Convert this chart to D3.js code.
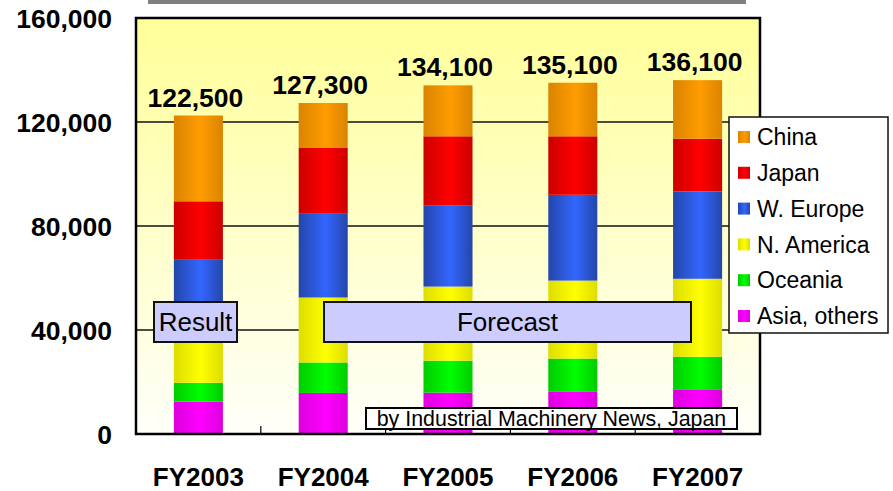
<!DOCTYPE html>
<html>
<head>
<meta charset="utf-8">
<script src="https://cdn.jsdelivr.net/npm/d3@7"></script>
<style>
  html, body { margin: 0; padding: 0; background: #fff; }
  svg { display: block; }
  text { font-family: "Liberation Sans", Arial, sans-serif; fill: #000; }
</style>
</head>
<body>
<svg id="chart" width="893" height="491"></svg>
<script>
// Fiscal years on the x axis
const categories = ["FY2003", "FY2004", "FY2005", "FY2006", "FY2007"];

// Regions, stacked bottom to top
const regions = ["Asia, others", "Oceania", "N. America", "W. Europe", "Japan", "China"];

// Units per region and year
const asiaOthers = [12500, 15800, 15900, 16400, 17200];
const oceania    = [7200, 11700, 12300, 12600, 12500];
const nAmerica   = [22000, 25000, 28500, 30000, 30000];
const wEurope    = [25300, 32200, 31300, 33000, 33600];
const japan      = [22500, 25300, 26500, 22500, 20300];
const china      = [33000, 17300, 19600, 20600, 22500];

// Stated totals above each bar
const totals = [122500, 127300, 134100, 135100, 136100];

// Y axis ticks
const yTicks = [0, 40000, 80000, 120000, 160000];

// Legend order (top to bottom)
const legendOrder = ["China", "Japan", "W. Europe", "N. America", "Oceania", "Asia, others"];

// Bright centre / darker edge tones for each region
const tones = {
  "China":        ["#FF9C00", "#DA8400"],
  "Japan":        ["#FF0000", "#CC0000"],
  "W. Europe":    ["#3366FF", "#2446AA"],
  "N. America":   ["#FFFF00", "#DDDD00"],
  "Oceania":      ["#00FF00", "#00CC00"],
  "Asia, others": ["#FF00FF", "#DD00DD"]
};

const seriesValues = {
  "Asia, others": asiaOthers,
  "Oceania": oceania,
  "N. America": nAmerica,
  "W. Europe": wEurope,
  "Japan": japan,
  "China": china
};

const table = categories.map((c, i) => {
  const row = { year: c };
  regions.forEach(r => { row[r] = seriesValues[r][i]; });
  return row;
});

const svg = d3.select("#chart");
const plotLeft = 136, plotRight = 760, plotTop = 18, plotBottom = 434;

const x = d3.scaleBand().domain(categories).range([plotLeft, plotRight])
  .paddingInner(0.607).paddingOuter(0.3035);
const y = d3.scaleLinear().domain([0, 160000]).range([plotBottom, plotTop]);

const defs = svg.append("defs");

// Plot background: pale yellow fading to near white
const bg = defs.append("linearGradient").attr("id", "plotBg")
  .attr("x1", 0).attr("y1", 0).attr("x2", 0).attr("y2", 1);
bg.append("stop").attr("offset", "0%").attr("stop-color", "#FFFF99");
bg.append("stop").attr("offset", "100%").attr("stop-color", "#FFFFFA");

// Cylindrical shading for the bar segments
regions.forEach((r, i) => {
  const g = defs.append("linearGradient").attr("id", "grad" + i)
    .attr("x1", 0).attr("y1", 0).attr("x2", 1).attr("y2", 0);
  g.append("stop").attr("offset", "0%").attr("stop-color", tones[r][1]);
  g.append("stop").attr("offset", "55%").attr("stop-color", tones[r][0]);
  g.append("stop").attr("offset", "100%").attr("stop-color", tones[r][1]);
});

// Grey rule across the top
svg.append("rect").attr("x", 148).attr("y", 0).attr("width", 598).attr("height", 4)
  .attr("fill", "#808080");

// Plot area
svg.append("rect").attr("x", plotLeft).attr("y", plotTop)
  .attr("width", plotRight - plotLeft).attr("height", plotBottom - plotTop)
  .attr("fill", "url(#plotBg)");

// Gridlines
svg.append("g").selectAll("line").data(yTicks.filter(t => t > 0 && t < 160000))
  .join("line")
  .attr("x1", plotLeft).attr("x2", plotRight)
  .attr("y1", d => y(d)).attr("y2", d => y(d))
  .attr("stroke", "#111").attr("stroke-width", 1.3);

// Stacked bars
const stack = d3.stack().keys(regions)(table);
svg.append("g").selectAll("g").data(stack).join("g")
  .attr("fill", (d, i) => "url(#grad" + i + ")")
  .selectAll("rect").data(d => d).join("rect")
  .attr("x", d => x(d.data.year))
  .attr("width", x.bandwidth())
  .attr("y", d => y(d[1]))
  .attr("height", d => y(d[0]) - y(d[1]));

// Category separator ticks pointing inward
const step = x.step();
svg.append("g").selectAll("line").data(d3.range(1, categories.length))
  .join("line")
  .attr("x1", i => plotLeft + i * step).attr("x2", i => plotLeft + i * step)
  .attr("y1", plotBottom - 8).attr("y2", plotBottom)
  .attr("stroke", "#000").attr("stroke-width", 1.2);

// Plot frame
svg.append("rect").attr("x", plotLeft).attr("y", plotTop)
  .attr("width", plotRight - plotLeft).attr("height", plotBottom - plotTop)
  .attr("fill", "none").attr("stroke", "#000").attr("stroke-width", 2.5);

// Y axis labels
const yAxis = d3.axisLeft(y).tickValues(yTicks).tickSize(0).tickPadding(24)
  .tickFormat(d3.format(","));
const yg = svg.append("g").attr("transform", `translate(${plotLeft},0)`).call(yAxis);
yg.select(".domain").remove();
yg.selectAll("text")
  .attr("font-family", "'Liberation Sans', Arial, sans-serif")
  .attr("font-size", 26.5).attr("font-weight", "bold").attr("fill", "#000")
  .attr("dy", "0.36em");

// X axis labels
const xAxis = d3.axisBottom(x).tickSize(0).tickPadding(0);
const xg = svg.append("g").attr("transform", `translate(0,${plotBottom})`).call(xAxis);
xg.select(".domain").remove();
xg.selectAll("text")
  .attr("font-family", "'Liberation Sans', Arial, sans-serif")
  .attr("font-size", 26).attr("font-weight", "bold").attr("fill", "#000")
  .attr("y", 52).attr("dy", null);

// Totals above bars
svg.append("g").selectAll("text").data(categories).join("text")
  .attr("x", d => x(d) + x.bandwidth() / 2 - 3)
  .attr("y", (d, i) => y(totals[i]) - 9)
  .attr("text-anchor", "middle")
  .attr("font-size", 26.5).attr("font-weight", "bold")
  .text((d, i) => d3.format(",")(totals[i]));

// Result / Forecast tags
function tag(x0, x1, label) {
  svg.append("rect").attr("x", x0).attr("y", 302)
    .attr("width", x1 - x0).attr("height", 40)
    .attr("fill", "#CCCCFF").attr("stroke", "#111").attr("stroke-width", 2);
  svg.append("text").attr("x", (x0 + x1) / 2).attr("y", 322)
    .attr("dy", "0.36em").attr("text-anchor", "middle")
    .attr("font-size", 26).text(label);
}
tag(154, 237, "Result");
tag(324, 691, "Forecast");

// Source note
svg.append("rect").attr("x", 366).attr("y", 408).attr("width", 371).attr("height", 21)
  .attr("fill", "#fff").attr("stroke", "#000").attr("stroke-width", 2);
svg.append("text").attr("x", 551.5).attr("y", 418.5).attr("dy", "0.36em")
  .attr("text-anchor", "middle").attr("font-size", 21.4)
  .text("by Industrial Machinery News, Japan");

// Legend
const lg = svg.append("g");
lg.append("rect").attr("x", 729).attr("y", 117).attr("width", 159).attr("height", 216)
  .attr("fill", "#fff").attr("stroke", "#111").attr("stroke-width", 1.5);
const items = lg.selectAll("g").data(legendOrder).join("g")
  .attr("transform", (d, i) => `translate(0,${137 + i * 35.8})`);
items.append("rect").attr("x", 738).attr("y", -6).attr("width", 12).attr("height", 12)
  .attr("fill", d => "url(#grad" + regions.indexOf(d) + ")");
items.append("text").attr("x", 757).attr("y", 0).attr("dy", "0.36em")
  .attr("font-size", 23).text(d => d);
</script>
</body>
</html>
